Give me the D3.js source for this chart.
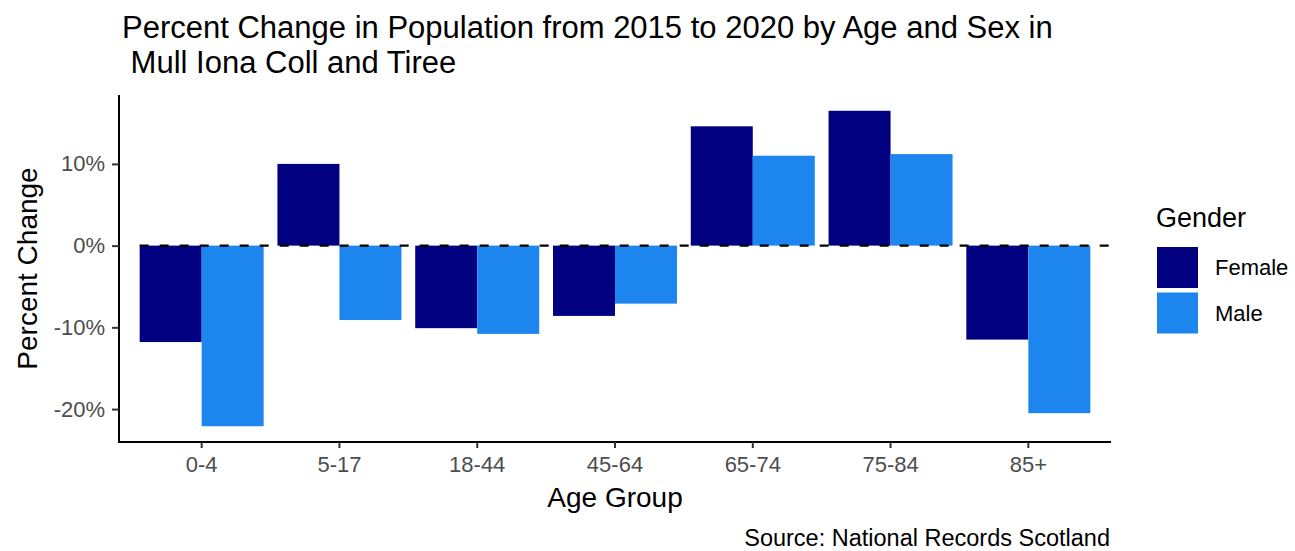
<!DOCTYPE html>
<html>
<head>
<meta charset="utf-8">
<script src="https://cdn.jsdelivr.net/npm/d3@7"></script>
<style>
  html, body { margin: 0; padding: 0; background: #fff; }
  text { font-family: "Liberation Sans", Arial, Helvetica, sans-serif; }
</style>
</head>
<body>
<svg id="chart" width="1295" height="551"></svg>
<script>
// ---- Data ----
const ageGroups = ["0-4", "5-17", "18-44", "45-64", "65-74", "75-84", "85+"];
const genders = ["Female", "Male"];
const femaleChange = [-11.8, 10.0, -10.1, -8.6, 14.6, 16.5, -11.5];
const maleChange   = [-22.1, -9.1, -10.8, -7.1, 11.0, 11.2, -20.5];
const yTickValues = [-20, -10, 0, 10];
const titleLines = ["Percent Change in Population from 2015 to 2020 by Age and Sex in", " Mull Iona Coll and Tiree"];
const xTitle = "Age Group";
const yTitle = "Percent Change";
const legendTitle = "Gender";
const caption = "Source: National Records Scotland";

const colors = { Female: "#000080", Male: "#1C86EE" };

const rows = [];
ageGroups.forEach((a, i) => {
  rows.push({ age: a, gender: "Female", value: femaleChange[i] });
  rows.push({ age: a, gender: "Male", value: maleChange[i] });
});

// ---- Layout ----
const panel = { left: 119, right: 1111, top: 95, bottom: 442 };
const svg = d3.select("#chart");

const allVals = rows.map(d => d.value).concat([0]);
const vmin = d3.min(allVals), vmax = d3.max(allVals);
const pad = (vmax - vmin) * 0.05;
const y = d3.scaleLinear().domain([vmin - pad, vmax + pad]).range([panel.bottom, panel.top]);

const x = d3.scaleBand().domain(ageGroups).range([panel.left, panel.right])
  .paddingInner(0.1).paddingOuter(0.15);
const xInner = d3.scaleBand().domain(genders).range([0, x.bandwidth()]).padding(0);

// Bars
svg.append("g").selectAll("rect").data(rows).join("rect")
  .attr("x", d => x(d.age) + xInner(d.gender))
  .attr("width", xInner.bandwidth())
  .attr("y", d => y(Math.max(0, d.value)))
  .attr("height", d => Math.abs(y(d.value) - y(0)))
  .attr("fill", d => colors[d.gender]);

// Dashed zero line
svg.append("line")
  .attr("x1", x(ageGroups[0])).attr("x2", panel.right)
  .attr("y1", y(0)).attr("y2", y(0))
  .attr("stroke", "#000").attr("stroke-width", 2.2)
  .attr("stroke-dasharray", "9,11");

// Axes
const fmt = d => d + "%";
const yAxis = svg.append("g").attr("transform", `translate(${panel.left},0)`)
  .call(d3.axisLeft(y).tickValues(yTickValues).tickFormat(fmt).tickSize(7).tickPadding(7));
const xAxis = svg.append("g").attr("transform", `translate(0,${panel.bottom})`)
  .call(d3.axisBottom(x).tickSize(6).tickPadding(8));

[xAxis, yAxis].forEach(g => {
  g.select(".domain").attr("stroke", "#000").attr("stroke-width", 2);
  g.selectAll(".tick line").attr("stroke", "#333").attr("stroke-width", 2);
  g.selectAll(".tick text").attr("fill", "#4d4d4d").style("font-size", "22px")
    .style("font-family", '"Liberation Sans", Arial, sans-serif');
});
// extend domain lines into corner
xAxis.select(".domain").attr("d", `M${panel.left - 1},0H${panel.right}`);
yAxis.select(".domain").attr("d", `M0,${panel.top}V${panel.bottom + 1}`);

// Titles
const title = svg.append("text").style("font-size", "31px").attr("fill", "#000")
  .style("white-space", "pre");
titleLines.forEach((t, i) => {
  title.append("tspan").attr("x", 122).attr("y", 38 + i * 35).text(t);
});

svg.append("text").attr("x", (panel.left + panel.right) / 2).attr("y", 507)
  .attr("text-anchor", "middle").style("font-size", "28px").text(xTitle);

svg.append("text")
  .attr("transform", `translate(37,${(panel.top + panel.bottom) / 2}) rotate(-90)`)
  .attr("text-anchor", "middle").style("font-size", "28px").text(yTitle);

svg.append("text").attr("x", 1110).attr("y", 546).attr("text-anchor", "end")
  .style("font-size", "23.5px").text(caption);

// Legend
const lg = svg.append("g").attr("transform", "translate(1156,0)");
lg.append("text").attr("x", 0).attr("y", 227).style("font-size", "27px").text(legendTitle);
genders.forEach((g, i) => {
  const ky = 247 + i * 45.5;
  lg.append("rect").attr("x", 1).attr("y", ky).attr("width", 41).attr("height", 41)
    .attr("fill", colors[g]);
  lg.append("text").attr("x", 59).attr("y", ky + 20.5).attr("dy", "0.35em")
    .style("font-size", "22px").attr("fill", "#000").text(g);
});
</script>
</body>
</html>
